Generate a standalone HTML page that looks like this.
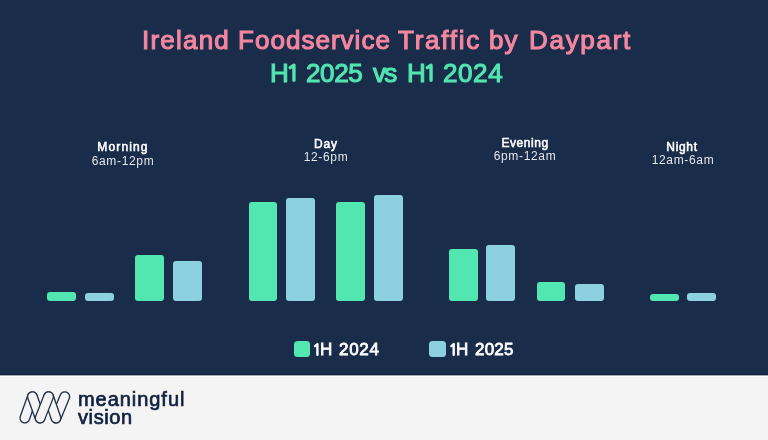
<!DOCTYPE html>
<html><head><meta charset="utf-8">
<style>
*{margin:0;padding:0;box-sizing:border-box}
.t,.lb,.lg,.br{will-change:transform}
html,body{width:768px;height:440px;overflow:hidden;background:#f4f4f4;font-family:"Liberation Sans",sans-serif}
#top{position:absolute;left:0;top:0;width:768px;height:375px;background:#192c4a}
.t{position:absolute;white-space:nowrap;line-height:1}
.t1{top:26.5px;font-size:26px;color:#f4879f;-webkit-text-stroke:1.1px #f4879f}
.t2{top:60px;font-size:26px;color:#52e5b0;-webkit-text-stroke:1.1px #52e5b0}
.lb{position:absolute;white-space:nowrap;text-align:center;width:120px;line-height:12px;font-size:12px}
.lb.b{color:#fff;-webkit-text-stroke:0.55px #fff}
.lb.s{color:#e2e5ea;letter-spacing:0.65px}
.bar{position:absolute;border-radius:3px}
.g{background:#52e6b0}
.bl{background:#8dd0df}
.sq{position:absolute;width:16.4px;height:16.4px;border-radius:3.5px;top:341.1px}
.lg{position:absolute;top:341.4px;font-size:17px;color:#fff;line-height:1;-webkit-text-stroke:0.8px #fff}
#foot{position:absolute;left:0;top:375px;width:768px;height:65px;background:#f4f4f4}
.br{position:absolute;left:78px;font-size:20px;color:#112140;line-height:18px;-webkit-text-stroke:0.7px #112140;white-space:nowrap}
</style></head><body>
<div id="top">
<div class="t t1" style="left:141.5px;letter-spacing:1.21px">Ireland</div>
<div class="t t1" style="left:237.5px;letter-spacing:1.03px">Foodservice</div>
<div class="t t1" style="left:398.2px;letter-spacing:1.76px">Traffic</div>
<div class="t t1" style="left:489px;letter-spacing:1.0px">by</div>
<div class="t t1" style="left:528.5px;letter-spacing:1.7px">Daypart</div>
<div class="t t2" style="left:270px">H</div>
<svg style="position:absolute;left:0;top:0" width="768" height="100"><g fill="none" stroke="#52e5b0" stroke-width="3.4" stroke-linecap="round" stroke-linejoin="round"><path d="M290.2 67.6L293.95 65.2V80.3"/><path d="M427.3 67.6L431.05 65.2V80.3"/></g></svg>
<div class="t t2" style="left:306px;letter-spacing:-0.37px">2025</div>
<div class="t t2" style="left:372.8px;letter-spacing:-1.7px">vs</div>
<div class="t t2" style="left:407.2px">H</div>
<div class="t t2" style="left:443px;letter-spacing:0.6px">2024</div>

<div class="lb b" style="left:62.90px;top:141.4px;letter-spacing:1.14px">Morning</div>
<div class="lb s" style="left:62.90px;top:154.60px">6am-12pm</div>
<div class="lb b" style="left:265.80px;top:137.90px;letter-spacing:0.85px">Day</div>
<div class="lb s" style="left:265.80px;top:151.40px">12-6pm</div>
<div class="lb b" style="left:464.85px;top:136.65px;letter-spacing:0.55px">Evening</div>
<div class="lb s" style="left:464.85px;top:150.30px">6pm-12am</div>
<div class="lb b" style="left:622.30px;top:140.9px;letter-spacing:0.68px">Night</div>
<div class="lb s" style="left:623.00px;top:154.10px">12am-6am</div>

<div class="bar g" style="left:47.1px;width:29.2px;top:291.8px;height:9.2px"></div>
<div class="bar bl" style="left:84.8px;width:29.2px;top:293.3px;height:7.7px"></div>
<div class="bar g" style="left:135.2px;width:29.1px;top:255.0px;height:46.0px"></div>
<div class="bar bl" style="left:172.7px;width:29.3px;top:261.0px;height:40.0px"></div>
<div class="bar g" style="left:248.6px;width:28.9px;top:202.0px;height:99.0px"></div>
<div class="bar bl" style="left:286.0px;width:29.3px;top:197.9px;height:103.1px"></div>
<div class="bar g" style="left:336.2px;width:29.0px;top:202.0px;height:99.0px"></div>
<div class="bar bl" style="left:373.8px;width:29.2px;top:194.8px;height:106.2px"></div>
<div class="bar g" style="left:449.1px;width:28.7px;top:248.7px;height:52.3px"></div>
<div class="bar bl" style="left:486.1px;width:29.0px;top:244.5px;height:56.5px"></div>
<div class="bar g" style="left:536.6px;width:28.8px;top:281.5px;height:19.5px"></div>
<div class="bar bl" style="left:574.6px;width:29.1px;top:284.1px;height:16.9px"></div>
<div class="bar g" style="left:650.1px;width:29.2px;top:293.9px;height:7.1px"></div>
<div class="bar bl" style="left:687.1px;width:29.1px;top:293.4px;height:7.6px"></div>

<div class="sq g" style="left:293.9px"></div>
<svg style="position:absolute;left:0;top:330px" width="768" height="40"><g fill="none" stroke="#fff" stroke-width="2.4" stroke-linecap="round" stroke-linejoin="round"><path d="M315.1 16.1L317.4 14.1V24.8"/><path d="M451.4 16.1L453.7 14.1V24.8"/></g></svg>
<div class="lg" style="left:320px">H</div><div class="lg" style="left:338.9px;letter-spacing:0.7px">2024</div>
<div class="sq bl" style="left:429.4px"></div>
<div class="lg" style="left:456.3px">H</div><div class="lg" style="left:475.3px;letter-spacing:0.2px">2025</div>
</div>
<div id="foot"></div>
<div style="position:absolute;left:0;top:374px;width:768px;height:1px;background:#112242"></div>
<div style="position:absolute;left:0;top:375px;width:768px;height:1px;background:#9ea6b2"></div>
<div style="position:absolute;left:0;top:376px;width:768px;height:1px;background:#fbfbfb"></div>
<svg style="position:absolute;left:14px;top:385px" width="60" height="45" viewBox="0 0 60 45"><g fill="#f4f4f4" stroke="#1d2d4b" stroke-width="1.30"><rect x="-16.20" y="-4.80" width="32.40" height="9.60" rx="4.80" transform="translate(14.60 22.35) rotate(-70.53)"/><rect x="-16.42" y="-4.80" width="32.83" height="9.60" rx="4.80" transform="translate(46.40 22.35) rotate(-67.74)"/><rect x="-16.22" y="-4.80" width="32.44" height="9.60" rx="4.80" transform="translate(22.25 22.35) rotate(70.30)"/><rect x="-16.17" y="-4.80" width="32.34" height="9.60" rx="4.80" transform="translate(38.30 22.35) rotate(71.01)"/><rect x="-16.36" y="-4.80" width="32.72" height="9.60" rx="4.80" transform="translate(30.35 22.35) rotate(-68.43)"/></g></svg>
<div class="br" style="top:389.7px;letter-spacing:0.95px">meaningful</div>
<div class="br" style="top:407.6px;letter-spacing:0.6px">vision</div>
</body></html>
